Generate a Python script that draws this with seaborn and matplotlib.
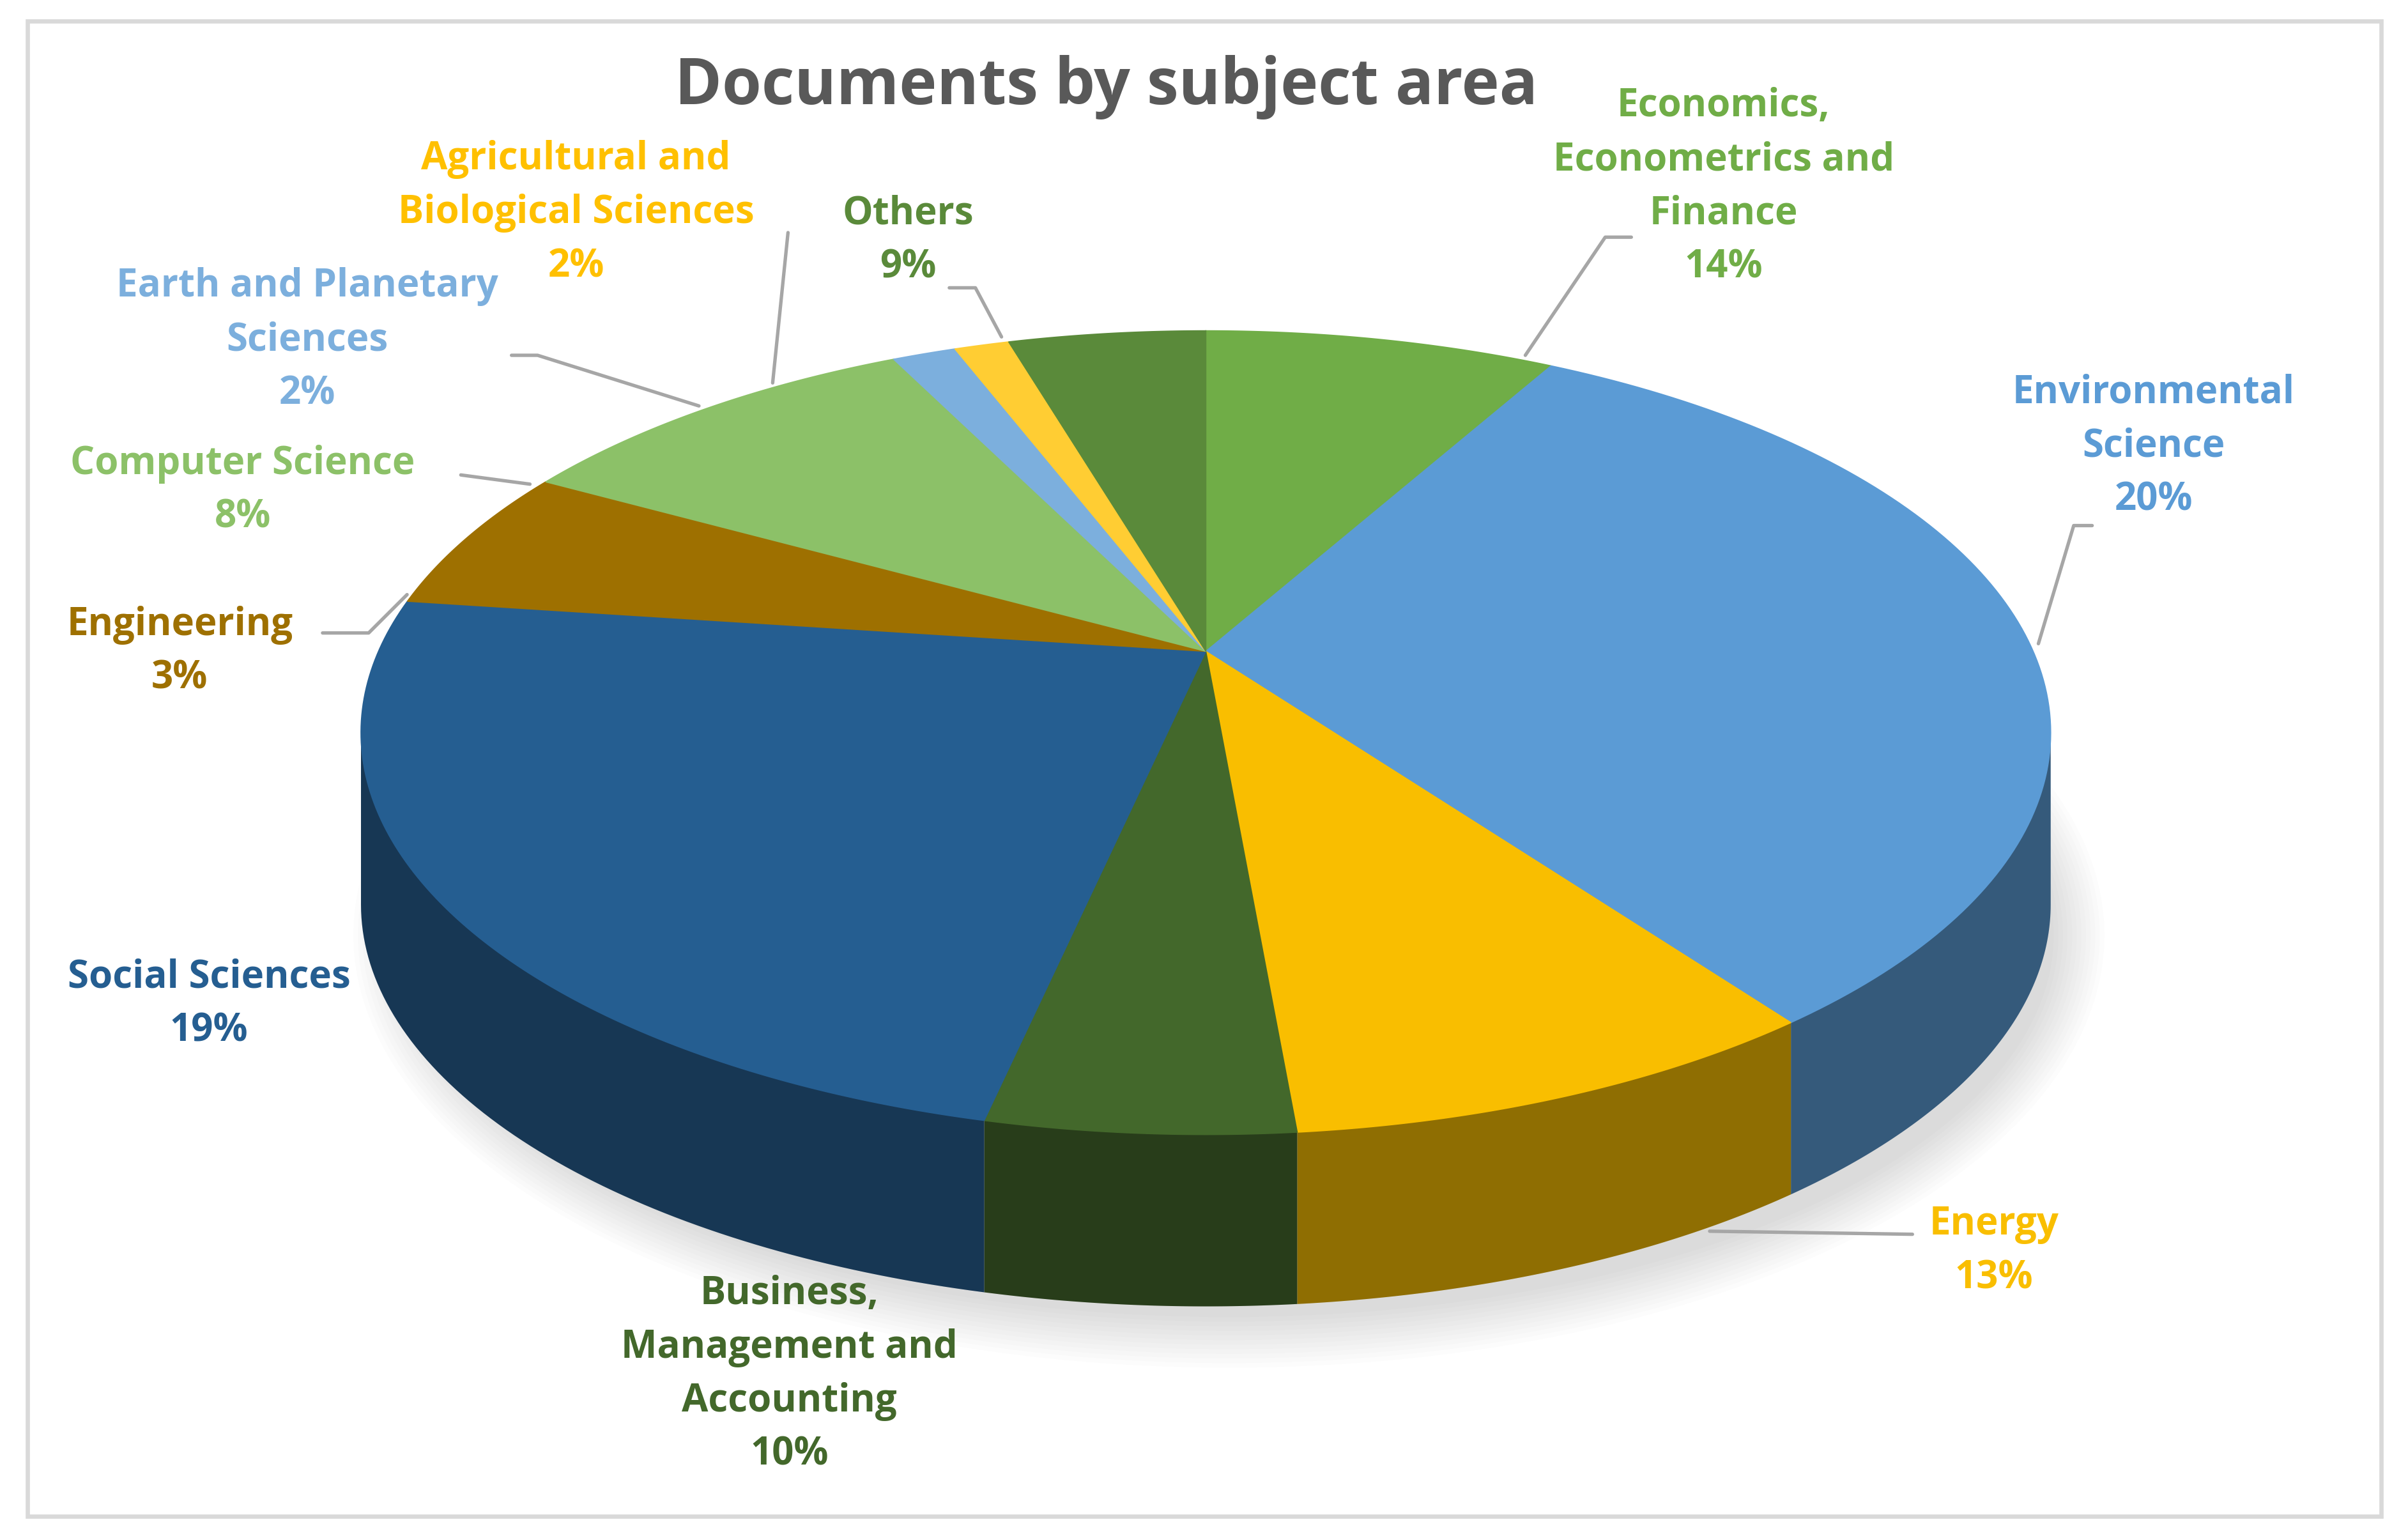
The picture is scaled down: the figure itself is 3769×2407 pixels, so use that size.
import numpy as np
import matplotlib
matplotlib.use('Agg')
import matplotlib.pyplot as plt
import seaborn as sns
from matplotlib.colors import to_rgb

sns.set_theme(style='white')
plt.rcParams['font.family'] = ['Open Sans', 'DejaVu Sans']

# data, clockwise from 12 o'clock
subjects = ['Economics,\nEconometrics and\nFinance', 'Environmental\nScience', 'Energy',
            'Business,\nManagement and\nAccounting', 'Social Sciences', 'Engineering',
            'Computer Science', 'Earth and Planetary\nSciences',
            'Agricultural and\nBiological Sciences', 'Others']
shares = [14, 20, 13, 10, 19, 3, 8, 2, 2, 9]
colors = ['#70AD47', '#5B9BD5', '#F9BE00', '#43682B', '#255E91', '#9E7000',
          '#8CC168', '#7CAFDD', '#FFCD33', '#5A8A3A']

# label placement (reference pixel frame 1568 x 1003)
label_pos = [(1122, 122), (1402, 291), (1298, 816), (514, 896), (136, 655),
             (117, 425), (158, 320), (200, 222), (375, 139), (591, 157)]
leaders = [[(993, 232), (1045, 155), (1062, 155)],
           [(1327, 420), (1350, 343), (1362, 343)],
           [(1113, 803), (1245, 805)],
           None, None,
           [(265, 388), (240, 413), (210, 413)],
           [(345, 316), (300, 310)],
           [(455, 265), (350, 232), (333, 232)],
           [(503, 250), (513, 152)],
           [(652, 220), (635, 188), (618, 188)]]

W, H = 1568, 1003
cx, cy, rx, ry, depth = 785, 478, 550, 262, 112
ax_x, ax_y = 785, 425   # apex of the slices (perspective)

fig = plt.figure(figsize=(15.708, 10.033), dpi=240)
ax = fig.add_axes([0, 0, 1, 1])
ax.set_xlim(0, W)
ax.set_ylim(H, 0)
ax.axis('off')
ax.add_patch(plt.Rectangle((18, 14), W - 36, H - 28, fill=False, ec='#D9D9D9', lw=2))

# soft shadow
for k in range(12):
    ax.add_patch(matplotlib.patches.Ellipse((cx + 15, cy + depth + 20), 2 * rx + 40 - k * 6,
                 2 * ry + 40 - k * 6, color='#000000', alpha=0.012, lw=0))

def pt(t, dy=0):
    return cx + rx * np.cos(t), cy - ry * np.sin(t) + dy

def to_param(a):
    # visual angle from the apex -> parametric angle on the ellipse
    out = []
    for ang in np.atleast_1d(a):
        ts = np.linspace(ang - np.pi, ang + np.pi, 4001)
        x, y = pt(ts)
        va = np.arctan2(-(y - ax_y) * (ry / ry), x - ax_x)
        d = np.angle(np.exp(1j * (va - ang)))
        out.append(ts[np.argmin(np.abs(d))])
    return np.array(out)

bounds = np.radians(90 - np.concatenate([[0], np.cumsum(shares)]) * 3.6)
pb = to_param(bounds)
# keep monotonic decreasing
for i in range(1, len(pb)):
    while pb[i] > pb[i - 1]:
        pb[i] -= 2 * np.pi
wedges = [(pb[i + 1], pb[i]) for i in range(len(shares))]

# side walls (front half only)
for (a0, a1), c in zip(wedges, colors):
    for base in (-2 * np.pi, 0):
        s, e = max(a0, base - np.pi), min(a1, base)
        if s >= e:
            continue
        t = np.linspace(s, e, 80)
        xs, ys = pt(t)
        xb, yb = pt(t[::-1], depth)
        dark = tuple(v * 0.62 for v in to_rgb(c))
        ax.fill(np.r_[xs, xb], np.r_[ys, yb], color=dark, lw=0)
        ax.fill(np.r_[xs, xb], np.r_[ys, yb], color='k', alpha=0.08, lw=0)

# top face
for (a0, a1), c in zip(wedges, colors):
    t = np.linspace(a0, a1, 120)
    xs, ys = pt(t)
    ax.fill(np.r_[ax_x, xs], np.r_[ax_y, ys], color=c, ec=c, lw=0.5)

# labels
for name, v, c, (lx, ly), ld in zip(subjects, shares, colors, label_pos, leaders):
    txt = f'{name}\n{v}%'
    if name.startswith('Agricultural'):
        c = '#FFC000'
    ax.text(lx, ly, txt, ha='center', va='center', color=c, fontsize=18,
            fontweight='bold', linespacing=1.5)
    if ld:
        xs, ys = zip(*ld)
        ax.plot(xs, ys, color='#A6A6A6', lw=1.6)

ax.text(720, 57, 'Documents by subject area', ha='center', va='center',
        color='#595959', fontsize=30, fontweight='bold')

fig.savefig('out.png', dpi=240, facecolor='white')
